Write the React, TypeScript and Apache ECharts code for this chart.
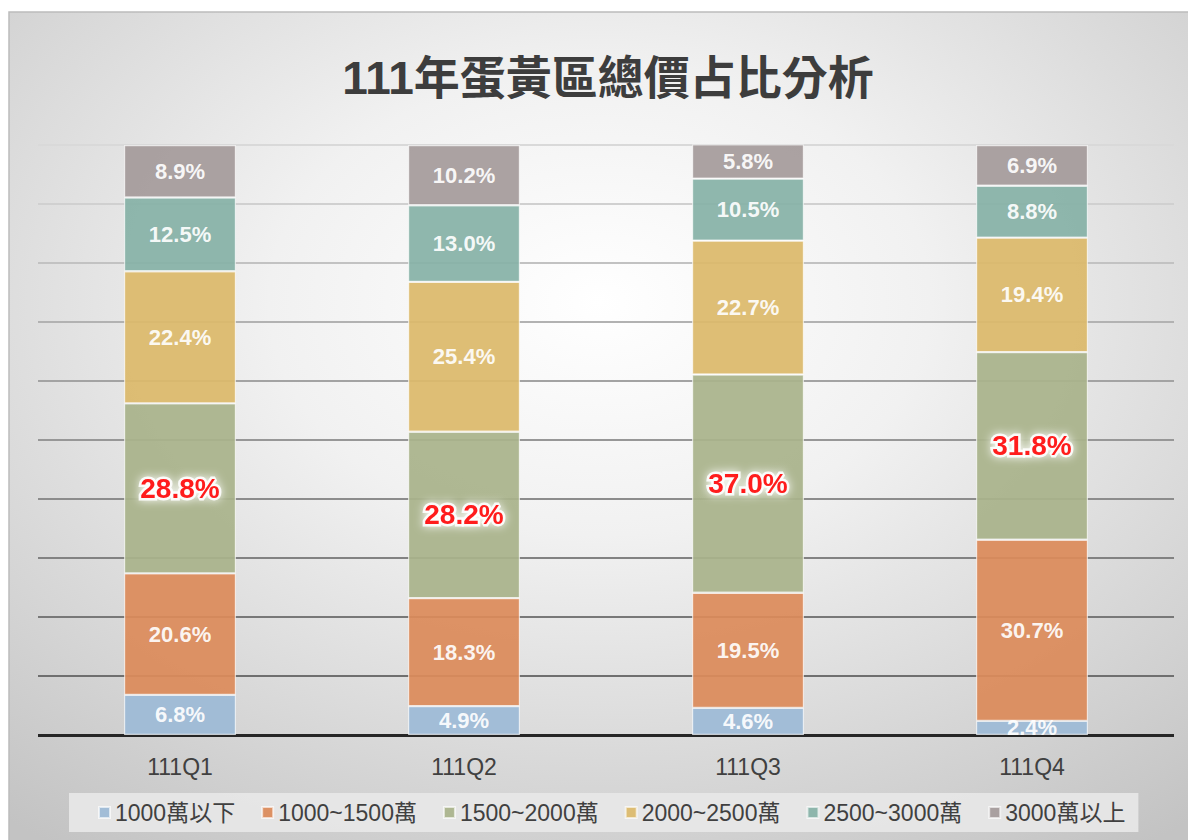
import React, { useEffect, useRef } from "react";
import * as echarts from "echarts";

const categories = ["111Q1", "111Q2", "111Q3", "111Q4"];
const seriesNames = ["1000萬以下", "1000~1500萬", "1500~2000萬", "2000~2500萬", "2500~3000萬", "3000萬以上"];
const below1000 = [6.8, 4.9, 4.6, 2.4];
const r1000to1500 = [20.6, 18.3, 19.5, 30.7];
const r1500to2000 = [28.8, 28.2, 37.0, 31.8];
const r2000to2500 = [22.4, 25.4, 22.7, 19.4];
const r2500to3000 = [12.5, 13.0, 10.5, 8.8];
const above3000 = [8.9, 10.2, 5.8, 6.9];
const seriesValues = [below1000, r1000to1500, r1500to2000, r2000to2500, r2500to3000, above3000];
const colors = ["#9dbad6", "#dc8b5a", "#a9b38b", "#dcb96b", "#86b2a7", "#a59b9b"];
const titleText = "111年蛋黃區總價占比分析";

const FONT = "'Liberation Sans', Arial, 'Noto Sans CJK TC', sans-serif";

export default function App() {
  const ref = useRef<HTMLDivElement>(null);
  useEffect(() => {
    if (!ref.current) return;
    const chart = echarts.init(ref.current, null, { renderer: "svg" });
    const series = seriesNames.map((name, i) => {
      const highlight = i === 2;
      return {
        name,
        type: "bar",
        stack: "total",
        barWidth: 112,
        data: seriesValues[i],
        itemStyle: {
          color: colors[i],
          opacity: 0.93,
          borderColor: "rgba(255,255,255,0.7)",
          borderWidth: 1.2,
        },
        label: {
          show: true,
          position: "inside",
          formatter: (p: any) => Number(p.value).toFixed(1) + "%",
          fontFamily: FONT,
          fontWeight: "bold",
          fontSize: highlight ? 28 : 22,
          color: highlight ? "#ff0000" : "#ffffff",
          ...(highlight
            ? {
                textBorderColor: "rgba(255,255,255,0.95)",
                textBorderWidth: 5,
                textShadowColor: "#ffffff",
                textShadowBlur: 10,
              }
            : {}),
        },
        ...(i === 0
          ? {
              markLine: {
                silent: true,
                symbol: "none",
                label: { show: false },
                lineStyle: { color: "#262626", width: 3, type: "solid" },
                data: [{ yAxis: 0 }],
                z: 1,
              },
            }
          : {}),
      };
    });
    chart.setOption({
      animation: false,
      color: colors,
      graphic: [
        {
          type: "rect",
          z: -10,
          shape: { x: 9, y: 12, width: 1188 - 9 + 2, height: 840 - 12 + 2 },
          style: {
            fill: new echarts.graphic.RadialGradient(0.5, 0.35, 0.8, [
              { offset: 0, color: "#ffffff" },
              { offset: 0.35, color: "#f1f1f1" },
              { offset: 1, color: "#c3c3c3" },
            ]),
            stroke: "#bcbcbc",
            lineWidth: 1.5,
          },
        },
        {
          type: "text",
          x: 608,
          y: 78,
          style: {
            text: titleText,
            textAlign: "center",
            textVerticalAlign: "middle",
            fontFamily: FONT,
            fontWeight: "bold",
            fontSize: 46,
            fill: "#3d3d3d",
          },
        },
      ],
      legend: {
        data: seriesNames,
        left: 69,
        top: 793,
        padding: [8, 13, 8, 29],
        backgroundColor: "rgba(232,232,232,0.9)",
        icon: "rect",
        itemWidth: 11,
        itemHeight: 11,
        itemGap: 26,
        textStyle: { fontFamily: FONT, fontSize: 23, color: "#404040" },
      },
      grid: { left: 38, right: 14, top: 145, bottom: 105, containLabel: false },
      xAxis: {
        type: "category",
        data: categories,
        axisLine: { show: false },
        axisTick: { show: false },
        axisLabel: { fontFamily: FONT, fontSize: 23, color: "#404040", margin: 20 },
      },
      yAxis: {
        type: "value",
        min: 0,
        max: 100,
        interval: 10,
        axisLabel: { show: false },
        axisLine: { show: false },
        axisTick: { show: false },
        splitLine: {
          show: true,
          lineStyle: {
            width: 2,
            color: [
              "rgba(0,0,0,0)",
              "#6f6f6f",
              "#787878",
              "#828282",
              "#8c8c8c",
              "#979797",
              "#a3a3a3",
              "#b2b2b2",
              "#c2c2c2",
              "#d0d0d0",
              "#d9d9d9",
            ],
          },
        },
      },
      series,
    });
    return () => chart.dispose();
  }, []);
  return (
    <div
      ref={ref}
      style={{ position: "fixed", left: 0, top: 0, width: 1188, height: 840, background: "#ffffff" }}
    />
  );
}
